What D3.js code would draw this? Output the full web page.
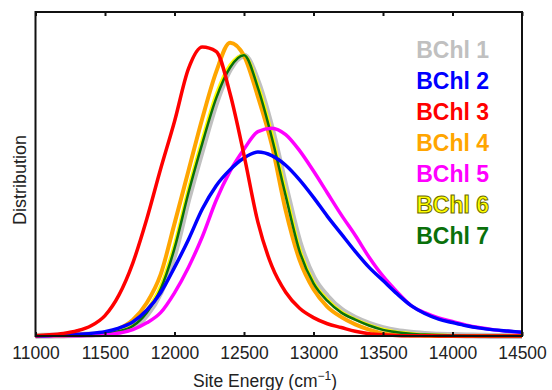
<!DOCTYPE html>
<html>
<head>
<meta charset="utf-8">
<script src="https://cdn.jsdelivr.net/npm/d3@7"></script>
<style>
  body { margin: 0; background: #fff; }
  svg { display: block; font-family: "Liberation Sans", Arial, sans-serif; }
</style>
</head>
<body>
<div id="chart"></div>
<script>
// ---------- DATA ---------- //
var energies = [11000, 11100, 11200, 11300, 11400, 11500, 11600, 11700, 11800, 11900,
                12000, 12100, 12200, 12300, 12400, 12500, 12600, 12700, 12800, 12900,
                13000, 13100, 13200, 13300, 13400, 13500, 13600, 13700, 13800, 13900,
                14000, 14100, 14200, 14300, 14400, 14500];

var bchl1 = [0, .001, .002, .003, .005, .008, .015, .03, .072, .15,
             .28, .47, .64, .80, .915, .96, .87, .71, .51, .32,
             .20, .135, .09, .062, .042, .027, .017, .011, .007, .004,
             .003, .002, .001, 0, 0, 0];
var bchl2 = [.001, .002, .004, .006, .009, .015, .027, .048, .088, .148,
             .235, .33, .435, .515, .57, .61, .63, .618, .585, .535,
             .475, .41, .35, .29, .235, .19, .145, .105, .077, .058,
             .046, .035, .027, .021, .017, .013];
var bchl3 = [.001, .004, .009, .018, .035, .07, .14, .25, .40, .572,
             .735, .915, .99, .975, .83, .62, .39, .24, .15, .095,
             .063, .042, .029, .016, .008, .004, .002, .001, .001, 0,
             0, 0, 0, 0, 0, 0];
var bchl4 = [0, .001, .002, .004, .006, .010, .025, .055, .113, .21,
             .385, .565, .745, .905, 1.005, .96, .82, .655, .43, .26,
             .16, .10, .065, .04, .022, .009, .004, .002, .001, 0,
             0, 0, 0, 0, 0, 0];
var bchl5 = [0, 0, .001, .001, .002, .003, .010, .022, .045, .08,
             .148, .235, .34, .465, .565, .64, .70, .712, .69, .635,
             .565, .49, .415, .345, .27, .205, .152, .105, .08, .062,
             .05, .037, .028, .021, .016, .013];
var bchl6 = [0, .001, .002, .003, .005, .008, .017, .036, .088, .172,
             .315, .505, .675, .83, .93, .962, .86, .695, .495, .30,
             .185, .125, .083, .058, .038, .023, .014, .009, .005, .003,
             .002, .001, 0, 0, 0, 0];
var bchl7 = [0, .001, .002, .003, .005, .008, .016, .034, .08, .16,
             .30, .49, .66, .815, .92, .962, .85, .68, .48, .29,
             .18, .12, .08, .056, .036, .021, .013, .008, .005, .003,
             .002, .001, 0, 0, 0, 0];

var names = ['BChl 1', 'BChl 2', 'BChl 3', 'BChl 4', 'BChl 5', 'BChl 6', 'BChl 7'];
var colors = ['#c0c0c0', '#0000ff', '#ff0000', '#ffa500', '#ff00ff', '#ffff00', '#0a700a'];
var xTicks = [11000, 11500, 12000, 12500, 13000, 13500, 14000, 14500];

// ---------- CHART ---------- //
var width = 552, height = 390;
var margin = {left: 35.5, right: 522, top: 12, bottom: 336};

var svg = d3.select('#chart').append('svg')
  .attr('width', width)
  .attr('height', height);

var x = d3.scaleLinear().domain([11000, 14500]).range([margin.left, margin.right]);
var y = d3.scaleLinear().domain([0, 1.11]).range([margin.bottom, margin.top]);

var series = [bchl1, bchl2, bchl3, bchl4, bchl5, bchl6, bchl7];

// draw order: grey underneath, then the rest
var order = [0, 3, 5, 6, 4, 1, 2];
var widths = [6, 3.5, 3.5, 4, 3.5, 3, 2.5];

var line = d3.line()
  .x((d, i) => x(energies[i]))
  .y(d => y(d))
  .curve(d3.curveMonotoneX);

svg.append('g')
  .selectAll('path')
  .data(order)
  .enter()
  .append('path')
  .attr('d', k => line(series[k]))
  .attr('fill', 'none')
  .attr('stroke', k => colors[k])
  .attr('stroke-width', k => widths[k])
  .attr('stroke-linejoin', 'round');

// frame
svg.append('rect')
  .attr('x', margin.left)
  .attr('y', margin.top)
  .attr('width', margin.right - margin.left)
  .attr('height', margin.bottom - margin.top)
  .attr('fill', 'none')
  .attr('stroke', '#111')
  .attr('stroke-width', 2);

// axes (ticks point inward)
var xAxis = d3.axisBottom(x)
  .tickValues(xTicks)
  .tickSizeInner(-4)
  .tickSizeOuter(0)
  .tickPadding(11)
  .tickFormat(d3.format('d'));

var gx = svg.append('g')
  .attr('transform', 'translate(0,' + margin.bottom + ')')
  .call(xAxis);
gx.select('.domain').remove();
gx.selectAll('line').attr('stroke', '#111').attr('stroke-width', 2);
gx.selectAll('text')
  .attr('font-size', 17.5)
  .attr('fill', '#222');

var gxTop = svg.append('g')
  .attr('transform', 'translate(0,' + margin.top + ')')
  .call(d3.axisTop(x).tickValues(xTicks).tickSizeInner(-4).tickSizeOuter(0).tickFormat(''));
gxTop.select('.domain').remove();
gxTop.selectAll('line').attr('stroke', '#111').attr('stroke-width', 2);

// axis titles
var xTitle = svg.append('text')
  .attr('x', 265)
  .attr('y', 387)
  .attr('text-anchor', 'middle')
  .attr('font-size', 17.5)
  .attr('fill', '#222');
xTitle.append('tspan').text('Site Energy (cm');
xTitle.append('tspan').attr('dy', -7).attr('font-size', 12).text('\u22121');
xTitle.append('tspan').attr('dy', 7).text(')');

svg.append('text')
  .attr('transform', 'translate(26,180) rotate(-90)')
  .attr('text-anchor', 'middle')
  .attr('font-size', 18)
  .attr('fill', '#222')
  .text('Distribution');

// legend
svg.append('g')
  .selectAll('text')
  .data(names)
  .enter()
  .append('text')
  .attr('x', 489)
  .attr('y', (d, i) => 58 + i * 31)
  .attr('text-anchor', 'end')
  .attr('font-size', 23)
  .attr('font-weight', 'bold')
  .attr('fill', (d, i) => colors[i])
  .attr('stroke', (d, i) => i === 5 ? '#6a6a00' : 'none')
  .attr('stroke-width', 1)
  .text(d => d);
</script>
</body>
</html>
